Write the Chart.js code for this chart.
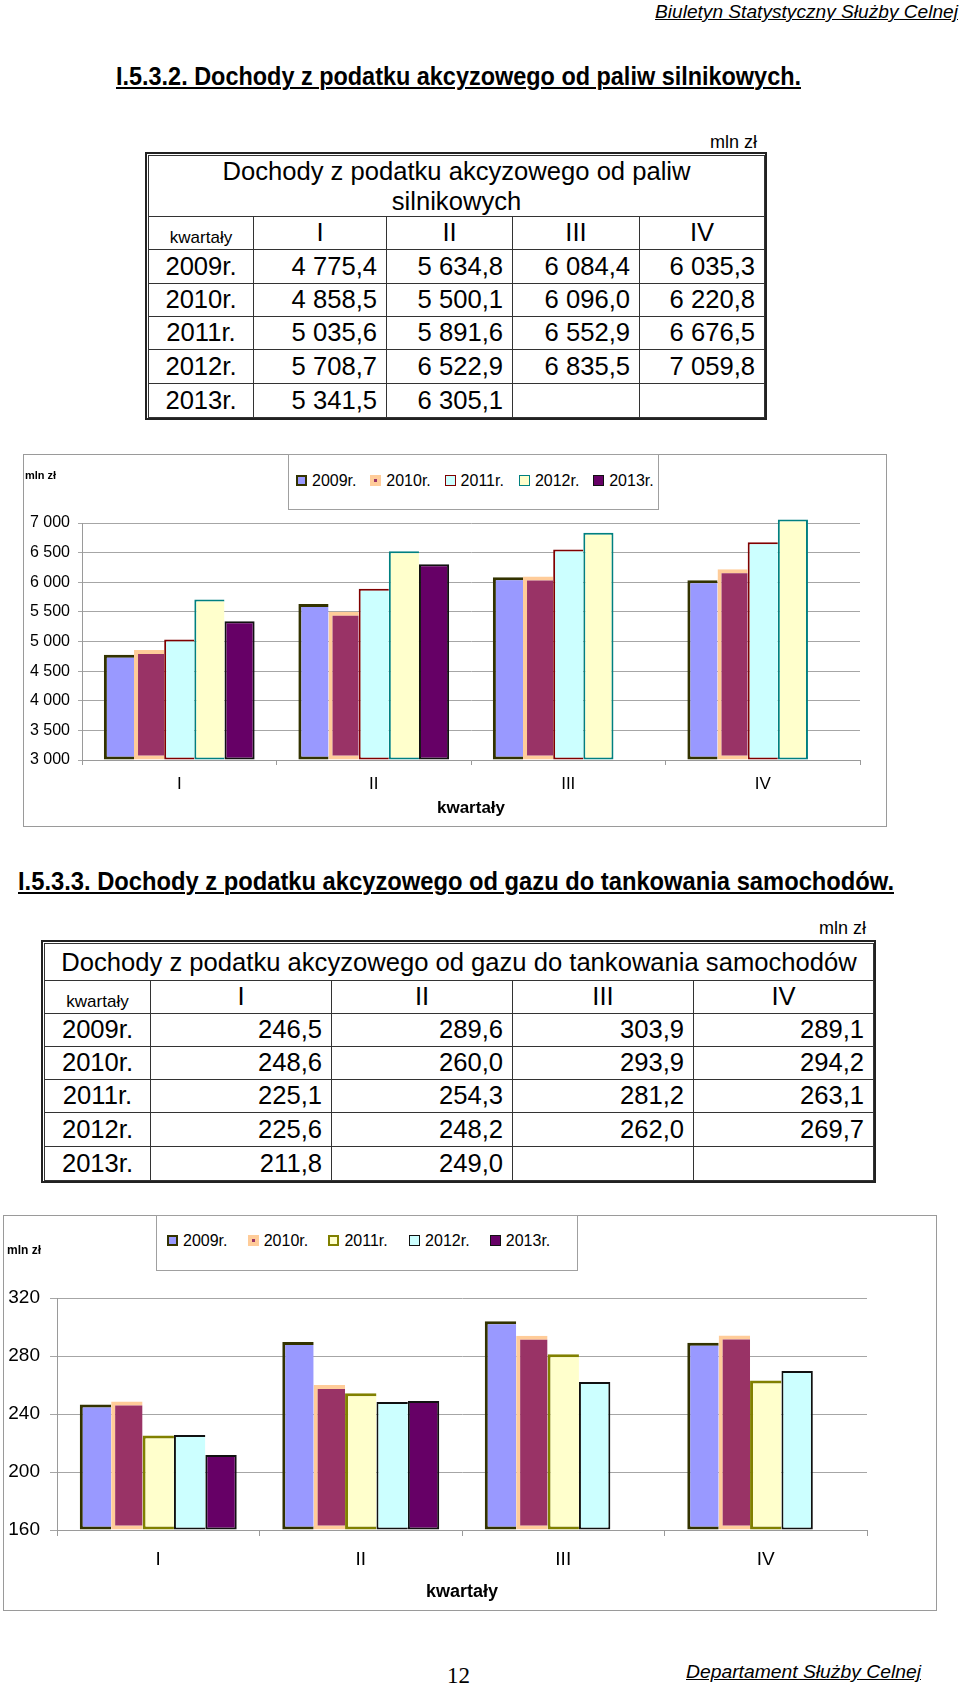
<!DOCTYPE html>
<html lang="pl"><head><meta charset="utf-8">
<script src="https://cdn.jsdelivr.net/npm/chart.js@4.4.1/dist/chart.umd.min.js"></script>
<style>
body{margin:0;background:#fff;}
#page{position:relative;width:960px;height:1689px;overflow:hidden;font-family:"Liberation Sans",Arial,sans-serif;color:#000;background:#fff;}
.txt{position:absolute;white-space:nowrap;display:inline-block;transform-origin:0 50%;line-height:1.15;}
.bold{font-weight:bold;}
.ital{font-style:italic;}
.und{text-decoration:underline;}
.hd2{text-decoration-thickness:2px;text-underline-offset:2px;}
.tbl{position:absolute;box-sizing:border-box;border:2px solid #222;padding:1px;background:#fff;}
.tbl table{border-collapse:collapse;table-layout:fixed;width:100%;height:100%;}
.tbl td{border:1px solid #333;padding:0;font-size:25.6px;line-height:1;white-space:nowrap;overflow:hidden;}
.tbl td.ttl{text-align:center;line-height:30px;}
.tbl td.kw{text-align:center;font-size:17px;padding-top:8px;}
.tbl td.hd{text-align:center;}
.tbl td.yr{text-align:center;}
.tbl td.num{text-align:right;padding-right:9px;}
.cbox{position:absolute;box-sizing:border-box;border:1px solid #9a9a9a;}
canvas{position:absolute;}
.lg{position:absolute;box-sizing:border-box;border:1px solid #a0a0a0;background:#fff;z-index:2;}
.lgi{position:absolute;white-space:nowrap;font-size:16px;line-height:16px;}
.lgm{position:absolute;box-sizing:border-box;width:11px;height:11px;top:2px;left:0;}
.unit{position:absolute;font-weight:bold;white-space:nowrap;z-index:2;}
</style>
</head><body>
<div id="page">
  <div class="txt ital und" data-w="303" style="left:655px;top:2px;font-size:18px">Biuletyn Statystyczny Służby Celnej</div>
  <div class="txt bold und hd2" data-w="685" style="left:116px;top:62px;font-size:26px">I.5.3.2. Dochody z podatku akcyzowego od paliw silnikowych.</div>
  <div class="txt" style="right:203px;top:132px;font-size:18px">mln zł</div>
  <div class="tbl" id="tab1"></div>

  <div class="cbox" id="box1"></div>
  <canvas id="chart1"></canvas>
  <div class="lg" id="leg1"></div>
  <div class="unit" style="left:25px;top:469px;font-size:11px">mln zł</div>

  <div class="txt bold und hd2" data-w="876" style="left:18px;top:867px;font-size:26px">I.5.3.3. Dochody z podatku akcyzowego od gazu do tankowania samochodów.</div>
  <div class="txt" style="right:94px;top:918px;font-size:18px">mln zł</div>
  <div class="tbl" id="tab2"></div>

  <div class="cbox" id="box2"></div>
  <canvas id="chart2"></canvas>
  <div class="lg" id="leg2"></div>
  <div class="unit" style="left:7px;top:1243px;font-size:12px">mln zł</div>

  <div class="txt" style="left:447px;top:1663px;font-size:23px;font-family:'Liberation Serif','Times New Roman',serif">12</div>
  <div class="txt ital und" data-w="235" style="left:686px;top:1662px;font-size:18px">Departament Służby Celnej</div>
</div>
<script>
// ---------- DATA ----------
const categories = ['I', 'II', 'III', 'IV'];
const seriesNames = ['2009r.', '2010r.', '2011r.', '2012r.', '2013r.'];

// Dochody z podatku akcyzowego od paliw silnikowych (mln zł)
const fuel2009 = [4775.4, 5634.8, 6084.4, 6035.3];
const fuel2010 = [4858.5, 5500.1, 6096.0, 6220.8];
const fuel2011 = [5035.6, 5891.6, 6552.9, 6676.5];
const fuel2012 = [5708.7, 6522.9, 6835.5, 7059.8];
const fuel2013 = [5341.5, 6305.1, null, null];

// Dochody z podatku akcyzowego od gazu do tankowania samochodów (mln zł)
const gas2009 = [246.5, 289.6, 303.9, 289.1];
const gas2010 = [248.6, 260.0, 293.9, 294.2];
const gas2011 = [225.1, 254.3, 281.2, 263.1];
const gas2012 = [225.6, 248.2, 262.0, 269.7];
const gas2013 = [211.8, 249.0, null, null];

const fuelTicks = [3000, 3500, 4000, 4500, 5000, 5500, 6000, 6500, 7000];
const gasTicks = [160, 200, 240, 280, 320];

const fuelTitle = ['Dochody z podatku akcyzowego od paliw', 'silnikowych'];
const gasTitle = ['Dochody z podatku akcyzowego od gazu do tankowania samochodów'];
const axisTitle = 'kwartały';

const fuelSeries = [fuel2009, fuel2010, fuel2011, fuel2012, fuel2013];
const gasSeries = [gas2009, gas2010, gas2011, gas2012, gas2013];

// ---------- STYLES ----------
const fuelStyles = [
  {bg:'#9999FF', bd:'#333300', w:3, mw:2},
  {bg:'#993366', bd:'#FFCC99', w:4, mw:4},
  {bg:'#CCFFFF', bd:'#800000', w:2, mw:1},
  {bg:'#FFFFCC', bd:'#008080', w:2, mw:1},
  {bg:'#660066', bd:'#111111', w:2, mw:1}
];
const gasStyles = [
  {bg:'#9999FF', bd:'#333300', w:3, mw:2},
  {bg:'#993366', bd:'#FFCC99', w:4, mw:4},
  {bg:'#FFFFCC', bd:'#808000', w:3, mw:2},
  {bg:'#CCFFFF', bd:'#111111', w:2, mw:1},
  {bg:'#660066', bd:'#111111', w:2, mw:1}
];

// ---------- HELPERS ----------
function groupThousands(s){ return s.replace(/\B(?=(\d{3})+(?!\d))/g, ' '); }
function fmtPL(v){
  if (v === null || v === undefined) return '';
  const p = v.toFixed(1).split('.');
  return groupThousands(p[0]) + ',' + p[1];
}

function buildTable(id, box, colW, rowH, titleLines, series){
  const wrap = document.getElementById(id);
  Object.assign(wrap.style, {left:box[0]+'px', top:box[1]+'px', width:box[2]+'px', height:box[3]+'px'});
  let h = '<table><colgroup>' + colW.map(w => '<col style="width:'+w+'px">').join('') + '</colgroup>';
  h += '<tr style="height:'+rowH[0]+'px"><td colspan="5" class="ttl">' + titleLines.join('<br>') + '</td></tr>';
  h += '<tr style="height:'+rowH[1]+'px"><td class="kw">' + axisTitle + '</td>' +
       categories.map(c => '<td class="hd">'+c+'</td>').join('') + '</tr>';
  series.forEach((s, i) => {
    h += '<tr style="height:'+rowH[i+2]+'px"><td class="yr">' + seriesNames[i] + '</td>' +
         s.map(v => '<td class="num">' + fmtPL(v) + '</td>').join('') + '</tr>';
  });
  wrap.innerHTML = h + '</table>';
}

function buildLegend(id, box, startX, stride, styles){
  const el = document.getElementById(id);
  Object.assign(el.style, {left:box[0]+'px', top:box[1]+'px', width:box[2]+'px', height:box[3]+'px'});
  let h = '';
  seriesNames.forEach((n, i) => {
    const st = styles[i];
    h += '<div class="lgi" style="left:'+(startX + i*stride)+'px;top:'+(box[4]-8)+'px;padding-left:16px">' +
         '<span class="lgm" style="background:'+st.bg+';border:'+st.mw+'px solid '+st.bd+'"></span>' + n + '</div>';
  });
  el.innerHTML = h;
}

function isLastInGroup(series, dataIndex, dsIndex){
  for (let j = dsIndex + 1; j < series.length; j++) {
    if (series[j][dataIndex] !== null && series[j][dataIndex] !== undefined) return false;
  }
  return true;
}

Chart.defaults.font.family = '"Liberation Sans", Arial, sans-serif';
Chart.defaults.color = '#000';

function makeChart(id, boxId, box, series, styles, ticks, cfg){
  const b = document.getElementById(boxId);
  Object.assign(b.style, {left:box[0]+'px', top:box[1]+'px', width:box[2]+'px', height:box[3]+'px'});
  const cv = document.getElementById(id);
  cv.width = box[2]; cv.height = box[3];
  cv.style.left = box[0]+'px'; cv.style.top = box[1]+'px';
  cv.style.width = box[2]+'px'; cv.style.height = box[3]+'px';
  return new Chart(cv, {
    type: 'bar',
    data: {
      labels: categories,
      datasets: series.map((d, i) => ({
        label: seriesNames[i],
        data: d,
        base: ticks[0],
        backgroundColor: styles[i].bg,
        borderColor: styles[i].bd,
        borderWidth: (ctx) => {
          const w = styles[i].w;
          const last = isLastInGroup(series, ctx.dataIndex, i);
          return {left:w, top:w, bottom:w, right: last ? w : 0};
        },
        borderSkipped: false,
        inflateAmount: 0,
        categoryPercentage: 0.775,
        barPercentage: 1,
        clip: false
      }))
    },
    options: {
      responsive: false,
      animation: false,
      devicePixelRatio: 1,
      layout: {padding: {top: cfg.padTop, right: cfg.padRight, left: 0, bottom: 0}},
      plugins: {legend: {display: false}, tooltip: {enabled: false}, title: {display: false}},
      scales: {
        x: {
          grid: {display: true, drawOnChartArea: false, drawTicks: true, tickLength: cfg.xTick, color: '#9a9a9a', offset: true},
          border: {display: true, color: '#9a9a9a'},
          ticks: {font: {size: cfg.xFont}, color: '#000', padding: cfg.xPad, maxRotation: 0, autoSkip: false},
          title: {display: true, text: axisTitle, font: {size: cfg.titleFont, weight: 'bold'}, color: '#000', padding: {top: 0, bottom: cfg.titlePad}},
          afterFit: (s) => { s.height = cfg.xHeight; }
        },
        y: {
          min: ticks[0],
          max: ticks[ticks.length - 1],
          afterBuildTicks: (s) => { s.ticks = ticks.map(v => ({value: v})); },
          ticks: {font: {size: cfg.yFont}, color: '#000', padding: cfg.yPad,
                  callback: (v) => groupThousands(String(v))},
          grid: {color: '#a6a6a6', tickLength: cfg.yTick, drawTicks: true},
          border: {display: true, color: '#9a9a9a'},
          afterFit: (s) => { s.width = cfg.yWidth; }
        }
      }
    }
  });
}

// ---------- BUILD ----------
buildTable('tab1', [145, 152, 622, 268], [105, 133, 126, 127, 125], [61, 33, 34, 33, 33, 34, 34], fuelTitle, fuelSeries);
buildTable('tab2', [41, 940, 835, 243], [106, 181, 181, 181, 180], [37, 33, 33, 33, 33, 34, 34], gasTitle, gasSeries);

makeChart('chart1', 'box1', [23, 454, 864, 373], fuelSeries, fuelStyles, fuelTicks,
  {padTop: 69, padRight: 27, yWidth: 59, xHeight: 67, xTick: 5, yTick: 4, xFont: 17, yFont: 16,
   xPad: 9, yPad: 8, titleFont: 17, titlePad: 8});
makeChart('chart2', 'box2', [3, 1215, 934, 396], gasSeries, gasStyles, gasTicks,
  {padTop: 83, padRight: 70, yWidth: 54, xHeight: 81, xTick: 6, yTick: 7, xFont: 19, yFont: 19,
   xPad: 12, yPad: 10, titleFont: 18, titlePad: 8});

buildLegend('leg1', [288, 454, 371, 56, 26], 7, 74.3, fuelStyles);
buildLegend('leg2', [156, 1215, 422, 56, 25], 10, 80.7, gasStyles);

// narrow (Arial Narrow-like) text fitted to measured width
document.querySelectorAll('.txt[data-w]').forEach(el => {
  const target = parseFloat(el.dataset.w);
  const w = el.getBoundingClientRect().width;
  if (w > 0) el.style.transform = 'scaleX(' + (target / w) + ')';
});
</script>
</body></html>
